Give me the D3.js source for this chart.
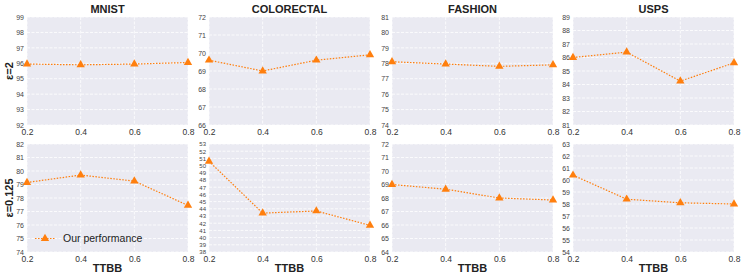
<!DOCTYPE html>
<html>
<head>
<meta charset="utf-8">
<script src="https://cdn.jsdelivr.net/npm/d3@7"></script>
<style>
  body { margin: 0; background: #fff; }
  svg { font-family: "Liberation Sans", Arial, sans-serif; }
</style>
</head>
<body>
<div id="chart"></div>
<script>
// data
var datasets = ["MNIST", "COLORECTAL", "FASHION", "USPS"];
var rowLabels = ["\u03b5=2", "\u03b5=0.125"];
var ttbb = [0.2, 0.4, 0.6, 0.8];
var xTicks = ["0.2", "0.4", "0.6", "0.8"];

var eps2 = [
  [95.95, 95.9, 95.95, 96.05],
  [69.6, 69.0, 69.6, 69.9],
  [78.1, 77.95, 77.8, 77.9],
  [86.0, 86.4, 84.25, 85.6]
];
var eps0125 = [
  [79.15, 79.7, 79.25, 77.45],
  [50.6, 43.4, 43.7, 41.7],
  [69.0, 68.65, 68.0, 67.85],
  [60.4, 58.4, 58.1, 58.0]
];
// y ranges [min, max] per panel
var yRange2 = [[92, 99], [66, 72], [74, 81], [81, 89]];
var yRange0125 = [[74, 82], [38, 53], [64, 72], [54, 63]];

var legendLabel = "Our performance";
var xLabel = "TTBB";

var W = 747, H = 280;
var colLeft = [27, 209, 392, 573];
var panelW = 161;
var rowTop = [17, 144];
var panelH = 108;
var orange = "#ff7f0e";

var svg = d3.select("#chart").append("svg").attr("width", W).attr("height", H);

var rows = [
  {vals: eps2, ranges: yRange2},
  {vals: eps0125, ranges: yRange0125}
];

rows.forEach(function(row, r){
  datasets.forEach(function(name, c){
    var g = svg.append("g").attr("transform", "translate(" + colLeft[c] + "," + rowTop[r] + ")");
    var x = d3.scaleLinear().domain([0.2, 0.8]).range([0, panelW]);
    var y = d3.scaleLinear().domain(row.ranges[c]).range([panelH, 0]);

    g.append("rect").attr("width", panelW).attr("height", panelH).attr("fill", "#eaeaf2");

    var yt = d3.range(row.ranges[c][0], row.ranges[c][1] + 1);
    g.selectAll(".hg").data(yt).enter().append("line")
      .attr("x1", 0).attr("x2", panelW)
      .attr("y1", function(d){ return y(d); }).attr("y2", function(d){ return y(d); })
      .attr("stroke", "#fff").attr("stroke-width", 0.8).attr("stroke-dasharray", "3,1.5");
    g.selectAll(".vg").data(ttbb).enter().append("line")
      .attr("y1", 0).attr("y2", panelH)
      .attr("x1", function(d){ return x(d); }).attr("x2", function(d){ return x(d); })
      .attr("stroke", "#fff").attr("stroke-width", 0.8).attr("stroke-dasharray", "3,1.5");

    var small = yt.length > 12;
    g.append("g").call(d3.axisLeft(y).tickValues(yt).tickSize(0).tickPadding(3).tickFormat(d3.format("d")))
      .call(function(a){ a.select(".domain").remove(); })
      .selectAll("text").attr("fill", "#444").style("font-size", small ? "6px" : "7px");

    g.append("g").attr("transform", "translate(0," + panelH + ")")
      .call(d3.axisBottom(x).tickValues(ttbb).tickSize(0).tickPadding(4).tickFormat(function(d, i){ return xTicks[i]; }))
      .call(function(a){ a.select(".domain").remove(); })
      .selectAll("text").attr("fill", "#333").style("font-size", "8.5px");

    var line = d3.line().x(function(d, i){ return x(ttbb[i]); }).y(function(d){ return y(d); });
    g.append("path").datum(row.vals[c]).attr("d", line)
      .attr("fill", "none").attr("stroke", orange).attr("stroke-width", 1.2).attr("stroke-dasharray", "1.5,1.5");
    g.selectAll(".pt").data(row.vals[c]).enter().append("path")
      .attr("d", d3.symbol().type(d3.symbolTriangle).size(30))
      .attr("transform", function(d, i){ return "translate(" + x(ttbb[i]) + "," + y(d) + ")"; })
      .attr("fill", orange);

    if (r === 0) {
      svg.append("text").attr("x", colLeft[c] + panelW / 2).attr("y", 13)
        .attr("text-anchor", "middle").style("font-size", "11px").style("font-weight", "bold")
        .attr("fill", "#222").text(name);
    } else {
      svg.append("text").attr("x", colLeft[c] + panelW / 2).attr("y", 272)
        .attr("text-anchor", "middle").style("font-size", "11px").style("font-weight", "bold")
        .attr("fill", "#222").text(xLabel);
    }

    if (r === 1 && c === 0) {
      var ly = y(75);
      g.append("line").attr("x1", 8).attr("x2", 28).attr("y1", ly).attr("y2", ly)
        .attr("stroke", orange).attr("stroke-width", 1.2).attr("stroke-dasharray", "1.5,1.5");
      g.append("path").attr("d", d3.symbol().type(d3.symbolTriangle).size(30))
        .attr("transform", "translate(18," + ly + ")").attr("fill", orange);
      g.append("text").attr("x", 36).attr("y", ly + 3.5).style("font-size", "10.5px")
        .attr("fill", "#222").text(legendLabel);
    }
  });

  svg.append("text")
    .attr("transform", "translate(13," + (rowTop[r] + panelH / 2) + ") rotate(-90)")
    .attr("text-anchor", "middle").style("font-size", "11px").style("font-weight", "bold")
    .attr("fill", "#222").text(rowLabels[r]);
});
</script>
</body>
</html>
